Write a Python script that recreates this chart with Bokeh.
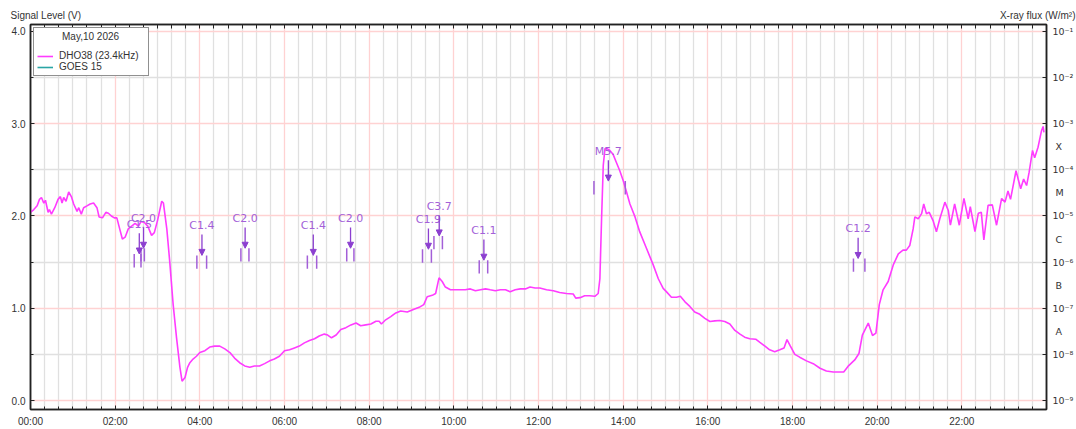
import math
from bokeh.plotting import figure
from bokeh.layouts import column
from bokeh.models import (Range1d, LinearAxis, FixedTicker, Grid, Legend, LegendItem,
                          Arrow, NormalHead, ColumnDataSource, BoxAnnotation)
from bokeh.embed import file_html
from bokeh.resources import INLINE
from bokeh.core.properties import value

# ---------------- data ----------------
date_label = "May,10 2026"
station_name = "DHO38 (23.4kHz)"
goes_name = "GOES 15"
left_title = "Signal Level (V)"
right_title = "X-ray flux (W/m\u00b2)"

signal_hours = [0.00, 0.078, 0.157, 0.212, 0.259, 0.314, 0.353, 0.416, 0.447, 0.494, 0.573, 0.651,
                0.706, 0.745, 0.784, 0.839, 0.902, 0.965, 1.02, 1.10, 1.14, 1.20, 1.255, 1.333,
                1.41, 1.49, 1.57, 1.62, 1.70, 1.78, 1.84, 1.91, 1.98, 2.04, 2.09, 2.17, 2.235,
                2.31, 2.39, 2.47, 2.55, 2.61, 2.69, 2.77, 2.86, 2.925, 3.00, 3.10, 3.14, 3.22,
                3.29, 3.37, 3.45, 3.53, 3.58, 3.65, 3.71, 3.765, 3.84, 3.92, 4.00, 4.12, 4.235,
                4.35, 4.47, 4.59, 4.71, 4.82, 4.94, 5.06, 5.18, 5.29, 5.41, 5.53, 5.65, 5.76,
                5.88, 6.00, 6.12, 6.235, 6.35, 6.47, 6.59, 6.71, 6.82, 6.94, 7.02, 7.11, 7.22,
                7.33, 7.45, 7.57, 7.69, 7.80, 7.92, 8.04, 8.16, 8.235, 8.29, 8.39, 8.51, 8.63,
                8.745, 8.90, 9.06, 9.18, 9.29, 9.37, 9.49, 9.57, 9.65, 9.725, 9.80, 9.92, 10.04,
                10.16, 10.27, 10.39, 10.51, 10.63, 10.75, 10.86, 10.98, 11.10, 11.22, 11.33,
                11.45, 11.57, 11.69, 11.80, 11.92, 12.03, 12.19, 12.35, 12.50, 12.66, 12.82,
                12.88, 12.98, 13.09, 13.21, 13.33, 13.41, 13.45, 13.49, 13.53, 13.57, 13.62,
                13.685, 13.76, 13.84, 13.92, 14.00, 14.08, 14.16, 14.28, 14.39, 14.55, 14.71,
                14.83, 14.945, 15.02, 15.14, 15.26, 15.35, 15.46, 15.575, 15.69, 15.81, 15.93,
                16.05, 16.165, 16.28, 16.40, 16.52, 16.64, 16.76, 16.87, 16.99, 17.13, 17.23,
                17.35, 17.46, 17.58, 17.70, 17.80, 17.87, 17.95, 18.055, 18.17, 18.33, 18.49,
                18.65, 18.80, 18.96, 19.12, 19.21, 19.31, 19.47, 19.57, 19.65, 19.79, 19.89,
                19.97, 20.05, 20.14, 20.26, 20.38, 20.50, 20.61, 20.69, 20.77, 20.85, 20.89,
                20.97, 21.05, 21.10, 21.165, 21.23, 21.32, 21.40, 21.48, 21.60, 21.68, 21.73,
                21.83, 21.94, 22.05, 22.15, 22.20, 22.31, 22.39, 22.46, 22.52, 22.62, 22.72,
                22.82, 22.94, 23.02, 23.09, 23.15, 23.28, 23.39, 23.46, 23.53, 23.59, 23.67,
                23.72, 23.80, 23.88, 23.92, 23.94]
signal_volts = [2.04, 2.07, 2.11, 2.18, 2.20, 2.14, 2.17, 2.04, 2.07, 2.02, 2.09, 2.18,
                2.21, 2.14, 2.20, 2.16, 2.26, 2.21, 2.13, 2.05, 2.09, 2.02, 2.09, 2.11,
                2.13, 2.14, 2.09, 1.99, 1.98, 2.04, 2.03, 2.00, 1.98, 1.98, 1.89, 1.75, 1.77,
                1.86, 1.89, 1.92, 1.89, 1.94, 1.93, 1.89, 1.79, 1.82, 1.95, 2.16, 2.14, 1.86,
                1.50, 1.04, 0.68, 0.36, 0.21, 0.25, 0.36, 0.41, 0.45, 0.48, 0.52, 0.54, 0.58,
                0.59, 0.59, 0.56, 0.52, 0.46, 0.41, 0.375, 0.36, 0.375, 0.375, 0.40, 0.43, 0.45,
                0.48, 0.54, 0.55, 0.57, 0.59, 0.625, 0.65, 0.67, 0.70, 0.72, 0.71, 0.68, 0.71,
                0.77, 0.79, 0.82, 0.84, 0.81, 0.82, 0.83, 0.86, 0.86, 0.83, 0.875, 0.91, 0.95,
                0.97, 0.96, 0.99, 1.01, 1.04, 1.125, 1.14, 1.16, 1.33, 1.29, 1.23, 1.20, 1.20,
                1.20, 1.20, 1.21, 1.19, 1.20, 1.21, 1.20, 1.19, 1.20, 1.20, 1.18,
                1.20, 1.21, 1.21, 1.23, 1.22, 1.22, 1.20, 1.19, 1.17, 1.16, 1.155,
                1.11, 1.115, 1.135, 1.135, 1.13, 1.16, 1.32, 1.97, 2.55, 2.73, 2.73,
                2.71, 2.67, 2.58, 2.49, 2.385, 2.26, 2.13, 1.99, 1.83, 1.65, 1.47,
                1.32, 1.215, 1.18, 1.12, 1.12, 1.13, 1.07, 1.02, 0.96, 0.935, 0.89,
                0.856, 0.863, 0.867, 0.856, 0.83, 0.76, 0.72, 0.687, 0.67, 0.665, 0.63,
                0.59, 0.55, 0.53, 0.55, 0.57, 0.66, 0.59, 0.50, 0.47, 0.43, 0.40,
                0.35, 0.32, 0.31, 0.31, 0.31, 0.37, 0.44, 0.51, 0.71, 0.84, 0.705,
                0.73, 1.04, 1.20, 1.29, 1.47, 1.59, 1.63, 1.63, 1.68, 1.86, 1.99,
                1.97, 2.025, 2.13, 2.025, 2.04, 1.95, 1.83, 1.97, 2.15, 2.06, 1.90,
                2.13, 1.90, 2.19, 1.97, 2.10, 1.83, 2.03, 2.04, 1.74, 2.115, 2.12,
                1.90, 2.19, 2.15, 2.27, 2.18, 2.49, 2.295, 2.40, 2.33, 2.475, 2.71,
                2.63, 2.745, 2.92, 2.97, 2.905]

# GOES 15 has no samples in this plot (legend only)
goes_hours = [0.0]
goes_flux = [float("nan")]

flare_class = ["C1.5", "C2.0", "C1.4", "C2.0", "C1.4", "C2.0", "C1.9", "C3.7", "C1.1", "M5.7", "C1.2"]
flare_start = [2.45, 2.61, 3.93, 4.97, 6.54, 7.47, 9.26, 9.53, 10.60, 13.31, 19.44]
flare_peak = [2.57, 2.67, 4.05, 5.07, 6.68, 7.56, 9.40, 9.655, 10.71, 13.65, 19.55]
flare_end = [2.61, 2.69, 4.16, 5.16, 6.76, 7.64, 9.47, 9.73, 10.80, 14.05, 19.71]

x_major_hours = [0, 2, 4, 6, 8, 10, 12, 14, 16, 18, 20, 22]
y_major_volts = [0.0, 1.0, 2.0, 3.0, 4.0]
flux_exponents = [-9, -8, -7, -6, -5, -4, -3, -2, -1]
goes_letters = ["A", "B", "C", "M", "X"]
goes_letter_base = {"A": 1e-8, "B": 1e-7, "C": 1e-6, "M": 1e-5, "X": 1e-4}

# ---------------- helpers ----------------
SUP = str.maketrans("-0123456789", "\u207b\u2070\u00b9\u00b2\u00b3\u2074\u2075\u2076\u2077\u2078\u2079")


def flux_to_volt_axis(flux):
    # right log axis 1e-9..1e-1 spans left axis 0..4 V
    return (math.log10(flux) + 9.0) / 2.0


def class_flux(c):
    return goes_letter_base[c[0]] * float(c[1:])


TXT = "#333333"
FONT = "Liberation Sans"
PURPLE_T = "#a35fd8"
PURPLE = "#8c3fd0"
W = 1076
HEAD_H = 22
MAIN_H = 407

x0, x1 = 0.0, 24.0
y0, y1 = -0.097, 4.075

# ---------------- header strip with the two axis titles ----------------
head = figure(width=W, height=HEAD_H, output_backend="svg", toolbar_location=None,
              x_range=Range1d(0, W), y_range=Range1d(HEAD_H, 0),
              x_axis_type=None, y_axis_type=None, min_border=0,
              min_border_left=0, min_border_right=0, min_border_top=0, min_border_bottom=0)
head.outline_line_color = None
head.grid.visible = False
head.text(x=[10], y=[15], text=[left_title], text_align="left", text_baseline="middle",
          text_font=value(FONT), text_font_size="10px", text_color=TXT)
head.text(x=[W - 1], y=[15], text=[right_title], text_align="right", text_baseline="middle",
          text_font=value(FONT), text_font_size="10px", text_color=TXT)

# ---------------- main plot ----------------
p = figure(width=W, height=MAIN_H, output_backend="svg", toolbar_location=None,
           x_range=Range1d(x0, x1), y_range=Range1d(y0, y1),
           x_axis_type=None, y_axis_type=None,
           min_border_left=30, min_border_right=30, min_border_top=2, min_border_bottom=18,
           background_fill_color="white", border_fill_color="white")
p.outline_line_color = "#222222"
p.outline_line_width = 1.5

for fig in (head, p):
    if "frame_align" in fig.properties():
        fig.frame_align = False

# grids
x_minor = [i / 3.0 for i in range(0, 73)]
x_minor_only = [t for t in x_minor if abs(t / 2 - round(t / 2)) > 1e-6]
x_red = [float(h) for h in range(0, 25, 2)]
y_half = [0.5, 1.5, 2.5, 3.5]

for dim, ticks, col in [(0, x_minor_only, "#e0e0e0"), (1, y_half, "#e0e0e0"),
                        (0, x_red, "#ffd2d2"), (1, y_major_volts, "#ffd2d2")]:
    g = Grid(dimension=dim, ticker=FixedTicker(ticks=ticks), grid_line_color=col,
             grid_line_width=1.3)
    p.add_layout(g)


def style_axis(ax):
    ax.axis_line_color = "#222222"
    ax.axis_line_width = 1.5
    ax.major_tick_line_color = "#222222"
    ax.minor_tick_line_color = "#222222"
    ax.major_tick_in = 4
    ax.major_tick_out = 0
    ax.minor_tick_in = 3
    ax.minor_tick_out = 0
    ax.major_label_text_font = FONT
    ax.major_label_text_font_size = "10px"
    ax.major_label_text_color = TXT


xb = LinearAxis(ticker=FixedTicker(ticks=x_major_hours, minor_ticks=x_minor),
                major_label_overrides={h: "%02d:00" % h for h in x_major_hours})
style_axis(xb)
xb.major_label_standoff = 6
p.add_layout(xb, "below")

xt = LinearAxis(ticker=FixedTicker(ticks=[], minor_ticks=x_minor))
style_axis(xt)
xt.minor_tick_in = 4
xt.major_label_standoff = 0
p.add_layout(xt, "above")

yl = LinearAxis(ticker=FixedTicker(ticks=y_major_volts, minor_ticks=[i * 0.5 for i in range(9)]),
                major_label_overrides={v: "%.1f" % v for v in y_major_volts})
style_axis(yl)
yl.major_label_standoff = 5
p.add_layout(yl, "left")

decade_pos = [flux_to_volt_axis(10.0 ** e) for e in flux_exponents]
letter_pos = [flux_to_volt_axis(goes_letter_base[l] * math.sqrt(10.0)) for l in goes_letters]
overrides = {}
for e, pos in zip(flux_exponents, decade_pos):
    overrides[pos] = "10" + str(e).translate(SUP)
for l, pos in zip(goes_letters, letter_pos):
    overrides[pos] = "\u00a0" + l
yr = LinearAxis(ticker=FixedTicker(ticks=decade_pos + letter_pos, minor_ticks=decade_pos),
                major_label_overrides=overrides)
style_axis(yr)
yr.major_label_text_font = "DejaVu Sans"
yr.major_label_text_font_size = "9.5px"
yr.major_tick_in = 0
yr.minor_tick_in = 4
yr.major_label_standoff = 6
p.add_layout(yr, "right")

# signal + (empty) GOES
sig = p.line(signal_hours, signal_volts, line_color="#ff3cff", line_width=1.6)
goes = p.line(goes_hours, goes_flux, line_color="#2aa5a5", line_width=1.6)

# flares
heads = [flux_to_volt_axis(class_flux(c)) for c in flare_class]
fsrc = ColumnDataSource(dict(cls=flare_class, start=flare_start, peak=flare_peak, end=flare_end,
                             head=heads, tail=[h + 0.225 for h in heads],
                             lab=[h + 0.25 for h in heads], tick_lo=[h - 0.145 for h in heads]))
p.segment(x0="start", y0="tick_lo", x1="start", y1="head", source=fsrc, line_color=PURPLE_T,
          line_width=1.5)
p.segment(x0="end", y0="tick_lo", x1="end", y1="head", source=fsrc, line_color=PURPLE_T,
          line_width=1.5)
p.add_layout(Arrow(end=NormalHead(size=6, fill_color=PURPLE, line_color=PURPLE),
                   x_start="peak", y_start="tail", x_end="peak", y_end="head", source=fsrc,
                   line_color=PURPLE, line_width=1.3))
p.text(x="peak", y="lab", text="cls", source=fsrc, text_align="center", text_baseline="bottom",
       text_font=value("DejaVu Sans"), text_font_size="11px", text_color=PURPLE_T)

# legend
legend = Legend(items=[LegendItem(label=station_name, renderers=[sig]),
                       LegendItem(label=goes_name, renderers=[goes])],
                location="top_left", title="\u00a0" * 9 + date_label,
                title_text_font=FONT, title_text_font_size="10px", title_text_color=TXT,
                title_text_font_style="normal", title_standoff=8,
                label_text_font=FONT, label_text_font_size="10px", label_text_color=TXT,
                label_height=10, glyph_height=10, glyph_width=16, label_standoff=6,
                label_width=86, spacing=0, padding=3, margin=3,
                border_line_color="#222222", border_line_width=1.5,
                background_fill_alpha=1.0)
p.add_layout(legend)

# separator line under the legend title (pixel offsets inside the frame)
frame_w = W - 60
frame_h = MAIN_H - 20
px_x = frame_w / (x1 - x0)
px_y = frame_h / (y1 - y0)
sep_y = y1 - 18.5 / px_y
p.add_layout(BoxAnnotation(left=x0 + 3 / px_x, right=x0 + 117 / px_x, bottom=sep_y, top=sep_y,
                           fill_alpha=0, line_color="#222222", line_width=1.3))

layout = column(head, p, spacing=0)
open("out.html", "w").write(file_html(layout, INLINE))
